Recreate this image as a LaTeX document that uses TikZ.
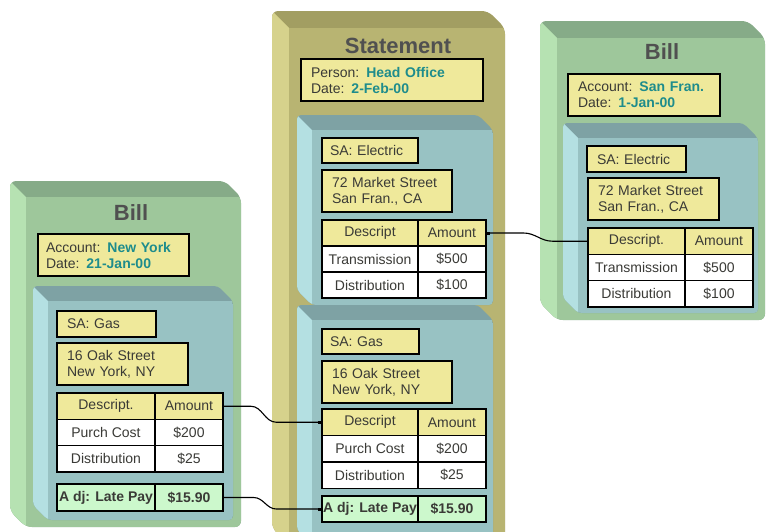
\documentclass[tikz,border=0pt]{standalone}
\usepackage{fontspec}
\setmainfont{Liberation Sans}
\usetikzlibrary{arrows.meta,calc}
\definecolor{billL}{HTML}{B6E2B2}
\definecolor{billF}{HTML}{9EC79B}
\definecolor{billT}{HTML}{86AB88}
\definecolor{stmL}{HTML}{D6D28C}
\definecolor{stmF}{HTML}{B8B472}
\definecolor{stmT}{HTML}{A29E62}
\definecolor{bluL}{HTML}{B4E0E2}
\definecolor{bluF}{HTML}{98C2C3}
\definecolor{bluT}{HTML}{7EA2A4}
\definecolor{ybg}{HTML}{EFE99B}
\definecolor{agr}{HTML}{CCF8CC}
\definecolor{tealc}{HTML}{1E8C8C}
\definecolor{txt}{HTML}{3A3A36}
\definecolor{ttl}{HTML}{505050}
% 3D box: x1,y1,x2,y2 (front face), depth, left colour, front colour, top colour, radius
\newcommand\cubebox[9]{%
  \begin{scope}
    \path[fill=#8, rounded corners=#9] (#1-#5,#2-#5) -- (#3-#5,#2-#5) -- (#3,#2) -- (#3,#4) -- (#1,#4) -- (#1-#5,#4-#5) -- cycle;
    \clip[rounded corners=#9] (#1-#5,#2-#5) -- (#3-#5,#2-#5) -- (#3,#2) -- (#3,#4) -- (#1,#4) -- (#1-#5,#4-#5) -- cycle;
    \fill[#6] (#1-#5,#2-#5) -- (#1,#2) -- (#1,#4) -- (#1-#5,#4-#5) -- cycle;
    \fill[#7] (#1,#2) rectangle (#3,#4);
  \end{scope}}
\newcommand\tv[1]{\textcolor{tealc}{\bfseries #1}}
\tikzset{
  every node/.style={font=\fontsize{14}{16}\selectfont, text=txt},
  ttlnode/.style={font=\fontsize{22}{24}\selectfont\bfseries, text=ttl, inner sep=0pt},
  ybox/.style={draw=black, line width=1.1pt, fill=ybg, align=left, inner xsep=#1, inner ysep=0pt},
  ybox/.default=10pt,
  cell/.style={draw=black, line width=1.2pt, inner sep=0pt, align=center},
  hcell/.style={cell, fill=ybg},
  dcell/.style={cell, fill=white},
  acell/.style={cell, fill=agr, font=\fontsize{14}{16}\selectfont\bfseries},
  conn/.style={draw=black, line width=1.1pt, -{Square[length=3pt,width=3pt]}}
}
\begin{document}
\begin{tikzpicture}[x=1pt,y=-1pt]
\useasboundingbox (0,0) rectangle (767,531);
\clip (0,0) rectangle (767,531);
\fill[white] (0,0) rectangle (767,531);
% ---------- boxes ----------
\cubebox{26}{197}{241}{527}{16}{billL}{billF}{billT}{6pt}
\cubebox{48}{301}{233}{520}{15}{bluL}{bluF}{bluT}{4pt}
\cubebox{289}{28}{505}{545}{17}{stmL}{stmF}{stmT}{6pt}
\cubebox{312}{130}{493}{305}{15}{bluL}{bluF}{bluT}{4pt}
\cubebox{312}{320}{493}{545}{15}{bluL}{bluF}{bluT}{4pt}
\cubebox{557}{38}{765}{320}{17}{billL}{billF}{billT}{6pt}
\cubebox{578}{138}{758}{313}{15}{bluL}{bluF}{bluT}{4pt}
% ---------- left bill ----------
\node[ttlnode] (lb-t) at (131,213) {Bill};
\node[ybox=8pt, text width=135pt, minimum height=42pt] (lb-info) at (113.5,255) {Account: \tv{New York}\\Date: \tv{21-Jan-00}};
\node[ybox, text width=79pt, minimum height=26pt] (lb-sa) at (106.5,324) {SA: Gas};
\node[ybox, text width=111pt, minimum height=42pt] (lb-addr) at (122.5,364) {16 Oak Street\\New York, NY};
\node[hcell, minimum width=98pt, minimum height=26.3pt] (lb-h1) at (106,406.2) {Descript.};
\node[hcell, minimum width=68pt, minimum height=26.3pt] (lb-h2) at (189,406.2) {Amount};
\node[dcell, minimum width=98pt, minimum height=26.3pt] (lb-r11) at (106,432.5) {Purch Cost};
\node[dcell, minimum width=68pt, minimum height=26.3pt] (lb-r12) at (189,432.5) {\$200};
\node[dcell, minimum width=98pt, minimum height=26.3pt] (lb-r21) at (106,458.8) {Distribution};
\node[dcell, minimum width=68pt, minimum height=26.3pt] (lb-r22) at (189,458.8) {\$25};
\node[acell, minimum width=98pt, minimum height=27pt] (lb-a1) at (106,497.5) {A dj: Late Pay};
\node[acell, minimum width=68pt, minimum height=27pt] (lb-a2) at (189,497.5) {\$15.90};
% ---------- statement ----------
\node[ttlnode] (st-t) at (398,46) {Statement};
\node[ybox, text width=162pt, minimum height=42pt] (st-info) at (392,80) {Person: \tv{Head Office}\\Date: \tv{2-Feb-00}};
\node[ybox=8pt, text width=80pt, minimum height=25pt] (se-sa) at (370,150.5) {SA: Electric};
\node[ybox, text width=110pt, minimum height=42pt] (se-addr) at (387,191) {72 Market Street\\San Fran., CA};
\node[hcell, minimum width=96pt, minimum height=26pt] (se-h1) at (370,233) {Descript};
\node[hcell, minimum width=68pt, minimum height=26pt] (se-h2) at (452,233) {Amount};
\node[dcell, minimum width=96pt, minimum height=26pt] (se-r11) at (370,259) {Transmission};
\node[dcell, minimum width=68pt, minimum height=26pt] (se-r12) at (452,259) {\$500};
\node[dcell, minimum width=96pt, minimum height=26pt] (se-r21) at (370,285) {Distribution};
\node[dcell, minimum width=68pt, minimum height=26pt] (se-r22) at (452,285) {\$100};
\node[ybox=8pt, text width=81pt, minimum height=25pt] (sg-sa) at (370.5,341.5) {SA: Gas};
\node[ybox, text width=110pt, minimum height=42pt] (sg-addr) at (387,382) {16 Oak Street\\New York, NY};
\node[hcell, minimum width=96pt, minimum height=26.5pt] (sg-h1) at (370,422.25) {Descript};
\node[hcell, minimum width=68pt, minimum height=26.5pt] (sg-h2) at (452,422.25) {Amount};
\node[dcell, minimum width=96pt, minimum height=26.5pt] (sg-r11) at (370,448.75) {Purch Cost};
\node[dcell, minimum width=68pt, minimum height=26.5pt] (sg-r12) at (452,448.75) {\$200};
\node[dcell, minimum width=96pt, minimum height=26.5pt] (sg-r21) at (370,475.25) {Distribution};
\node[dcell, minimum width=68pt, minimum height=26.5pt] (sg-r22) at (452,475.25) {\$25};
\node[acell, minimum width=96pt, minimum height=26pt] (sg-a1) at (370,509) {A dj: Late Pay};
\node[acell, minimum width=68pt, minimum height=26pt] (sg-a2) at (452,509) {\$15.90};
% ---------- right bill ----------
\node[ttlnode] (rb-t) at (662,52) {Bill};
\node[ybox, text width=132pt, minimum height=42pt] (rb-info) at (644,95) {Account: \tv{San Fran.}\\Date: \tv{1-Jan-00}};
\node[ybox, text width=79pt, minimum height=26pt] (rb-sa) at (636.5,159) {SA: Electric};
\node[ybox, text width=111pt, minimum height=42pt] (rb-addr) at (653.5,199) {72 Market Street\\San Fran., CA};
\node[hcell, minimum width=97pt, minimum height=26.3pt] (rb-h1) at (636.5,241.2) {Descript.};
\node[hcell, minimum width=68pt, minimum height=26.3pt] (rb-h2) at (719,241.2) {Amount};
\node[dcell, minimum width=97pt, minimum height=26.3pt] (rb-r11) at (636.5,267.5) {Transmission};
\node[dcell, minimum width=68pt, minimum height=26.3pt] (rb-r12) at (719,267.5) {\$500};
\node[dcell, minimum width=97pt, minimum height=26.3pt] (rb-r21) at (636.5,293.8) {Distribution};
\node[dcell, minimum width=68pt, minimum height=26.3pt] (rb-r22) at (719,293.8) {\$100};
% ---------- connectors ----------
\draw[conn] (rb-h1.west) -- ++(-35,0) to[out=180,in=0] ([xshift=37pt]se-h2.east) -- (se-h2.east);
\draw[conn] (lb-h2.east) -- ++(27,0) to[out=0,in=180] ([xshift=-45pt]sg-h1.west) -- (sg-h1.west);
\draw[conn] (lb-a2.east) -- ++(30,0) to[out=0,in=180] ([xshift=-45pt]sg-a1.west) -- (sg-a1.west);
\end{tikzpicture}
\end{document}
